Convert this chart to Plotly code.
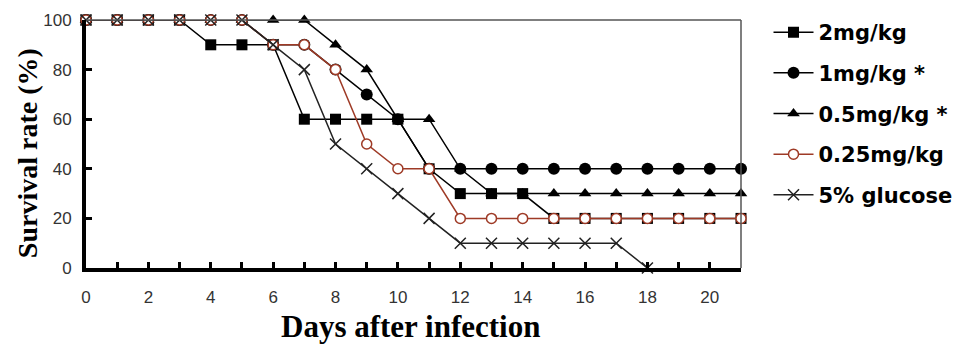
import plotly.graph_objects as go

days = list(range(0, 22))
tick_days = list(range(0, 22))
tick_text = [str(d) if d % 2 == 0 else "" for d in tick_days]
y_ticks = [0, 20, 40, 60, 80, 100]

names = ["2mg/kg", "1mg/kg *", "0.5mg/kg *", "0.25mg/kg", "5% glucose"]
mg2 = [100, 100, 100, 100, 90, 90, 90, 60, 60, 60, 60, 40, 30, 30, 30, 20, 20, 20, 20, 20, 20, 20]
mg1 = [100, 100, 100, 100, 100, 100, 90, 90, 80, 70, 60, 40, 40, 40, 40, 40, 40, 40, 40, 40, 40, 40]
mg05 = [100, 100, 100, 100, 100, 100, 100, 100, 90, 80, 60, 60, 40, 30, 30, 30, 30, 30, 30, 30, 30, 30]
mg025 = [100, 100, 100, 100, 100, 100, 90, 90, 80, 50, 40, 40, 20, 20, 20, 20, 20, 20, 20, 20, 20, 20]
glucose = [100, 100, 100, 100, 100, 100, 90, 80, 50, 40, 30, 20, 10, 10, 10, 10, 10, 10, 0, None, None, None]

RED = "#9e3a26"
styles = [
    dict(line=dict(color="black", width=1.5), marker=dict(symbol="square", size=11, color="black")),
    dict(line=dict(color="black", width=1.5), marker=dict(symbol="circle", size=12, color="black")),
    dict(line=dict(color="black", width=1.5), marker=dict(symbol="triangle-up", size=11, color="black")),
    dict(line=dict(color=RED, width=1.5), marker=dict(symbol="circle", size=10, color="white", line=dict(color=RED, width=1.5))),
    dict(line=dict(color="#222", width=1.5), marker=dict(symbol="x-thin", size=11, color="#222", line=dict(color="#222", width=1.5))),
]
series = [mg2, mg1, mg05, mg025, glucose]

fig = go.Figure()
for i, (nm, ys, st) in enumerate(zip(names, series, styles)):
    fig.add_trace(go.Scatter(x=days, y=ys, name=nm, mode="lines+markers", cliponaxis=False,
                             legendgroup="g%d" % i, connectgaps=False, **st))

fig.update_layout(
    width=962, height=346, autosize=False,
    margin=dict(l=78, r=229, t=12, b=86, autoexpand=False),
    plot_bgcolor="white", paper_bgcolor="white",
    showlegend=True,
    legend=dict(x=1.042, y=1.032, xanchor="left", yanchor="top", maxheight=340,
                font=dict(family="DejaVu Sans", size=21, color="black", weight="bold"),
                traceorder="grouped", tracegroupgap=10.35, itemwidth=40,
                bgcolor="rgba(0,0,0,0)"),
    xaxis=dict(range=[0, 21], tickvals=tick_days, ticktext=tick_text, ticks="inside", ticklen=6,
               tickwidth=3, tickcolor="black", showline=True, linewidth=4, linecolor="black",
               showgrid=False, zeroline=False, ticklabelstandoff=11, automargin=False,
               tickfont=dict(family="Liberation Sans", size=17, color="#333")),
    yaxis=dict(range=[0, 100], tickvals=y_ticks, ticks="inside", ticklen=6, tickwidth=3,
               tickcolor="black", showline=True, linewidth=4, linecolor="black",
               showgrid=False, zeroline=False, ticklabelstandoff=7, automargin=False,
               tickfont=dict(family="Liberation Sans", size=17, color="#333")),
    shapes=[
        dict(type="line", xref="paper", yref="paper", x0=0, x1=1, y0=1, y1=1, line=dict(color="#555", width=1.5)),
        dict(type="line", xref="paper", yref="paper", x0=1, x1=1, y0=0, y1=1, line=dict(color="#555", width=1.5)),
    ],
    annotations=[
        dict(text="Days after infection", xref="paper", yref="paper", x=0.496, y=-0.235,
             xanchor="center", yanchor="middle", showarrow=False,
             font=dict(family="Liberation Serif", size=31, color="black", weight="bold")),
        dict(text="Survival rate (%)", xref="paper", yref="paper", x=-0.089, y=0.462,
             xanchor="center", yanchor="middle", showarrow=False, textangle=-90,
             font=dict(family="Liberation Serif", size=28, color="black", weight="bold")),
    ],
)

fig.write_html("out.html")
